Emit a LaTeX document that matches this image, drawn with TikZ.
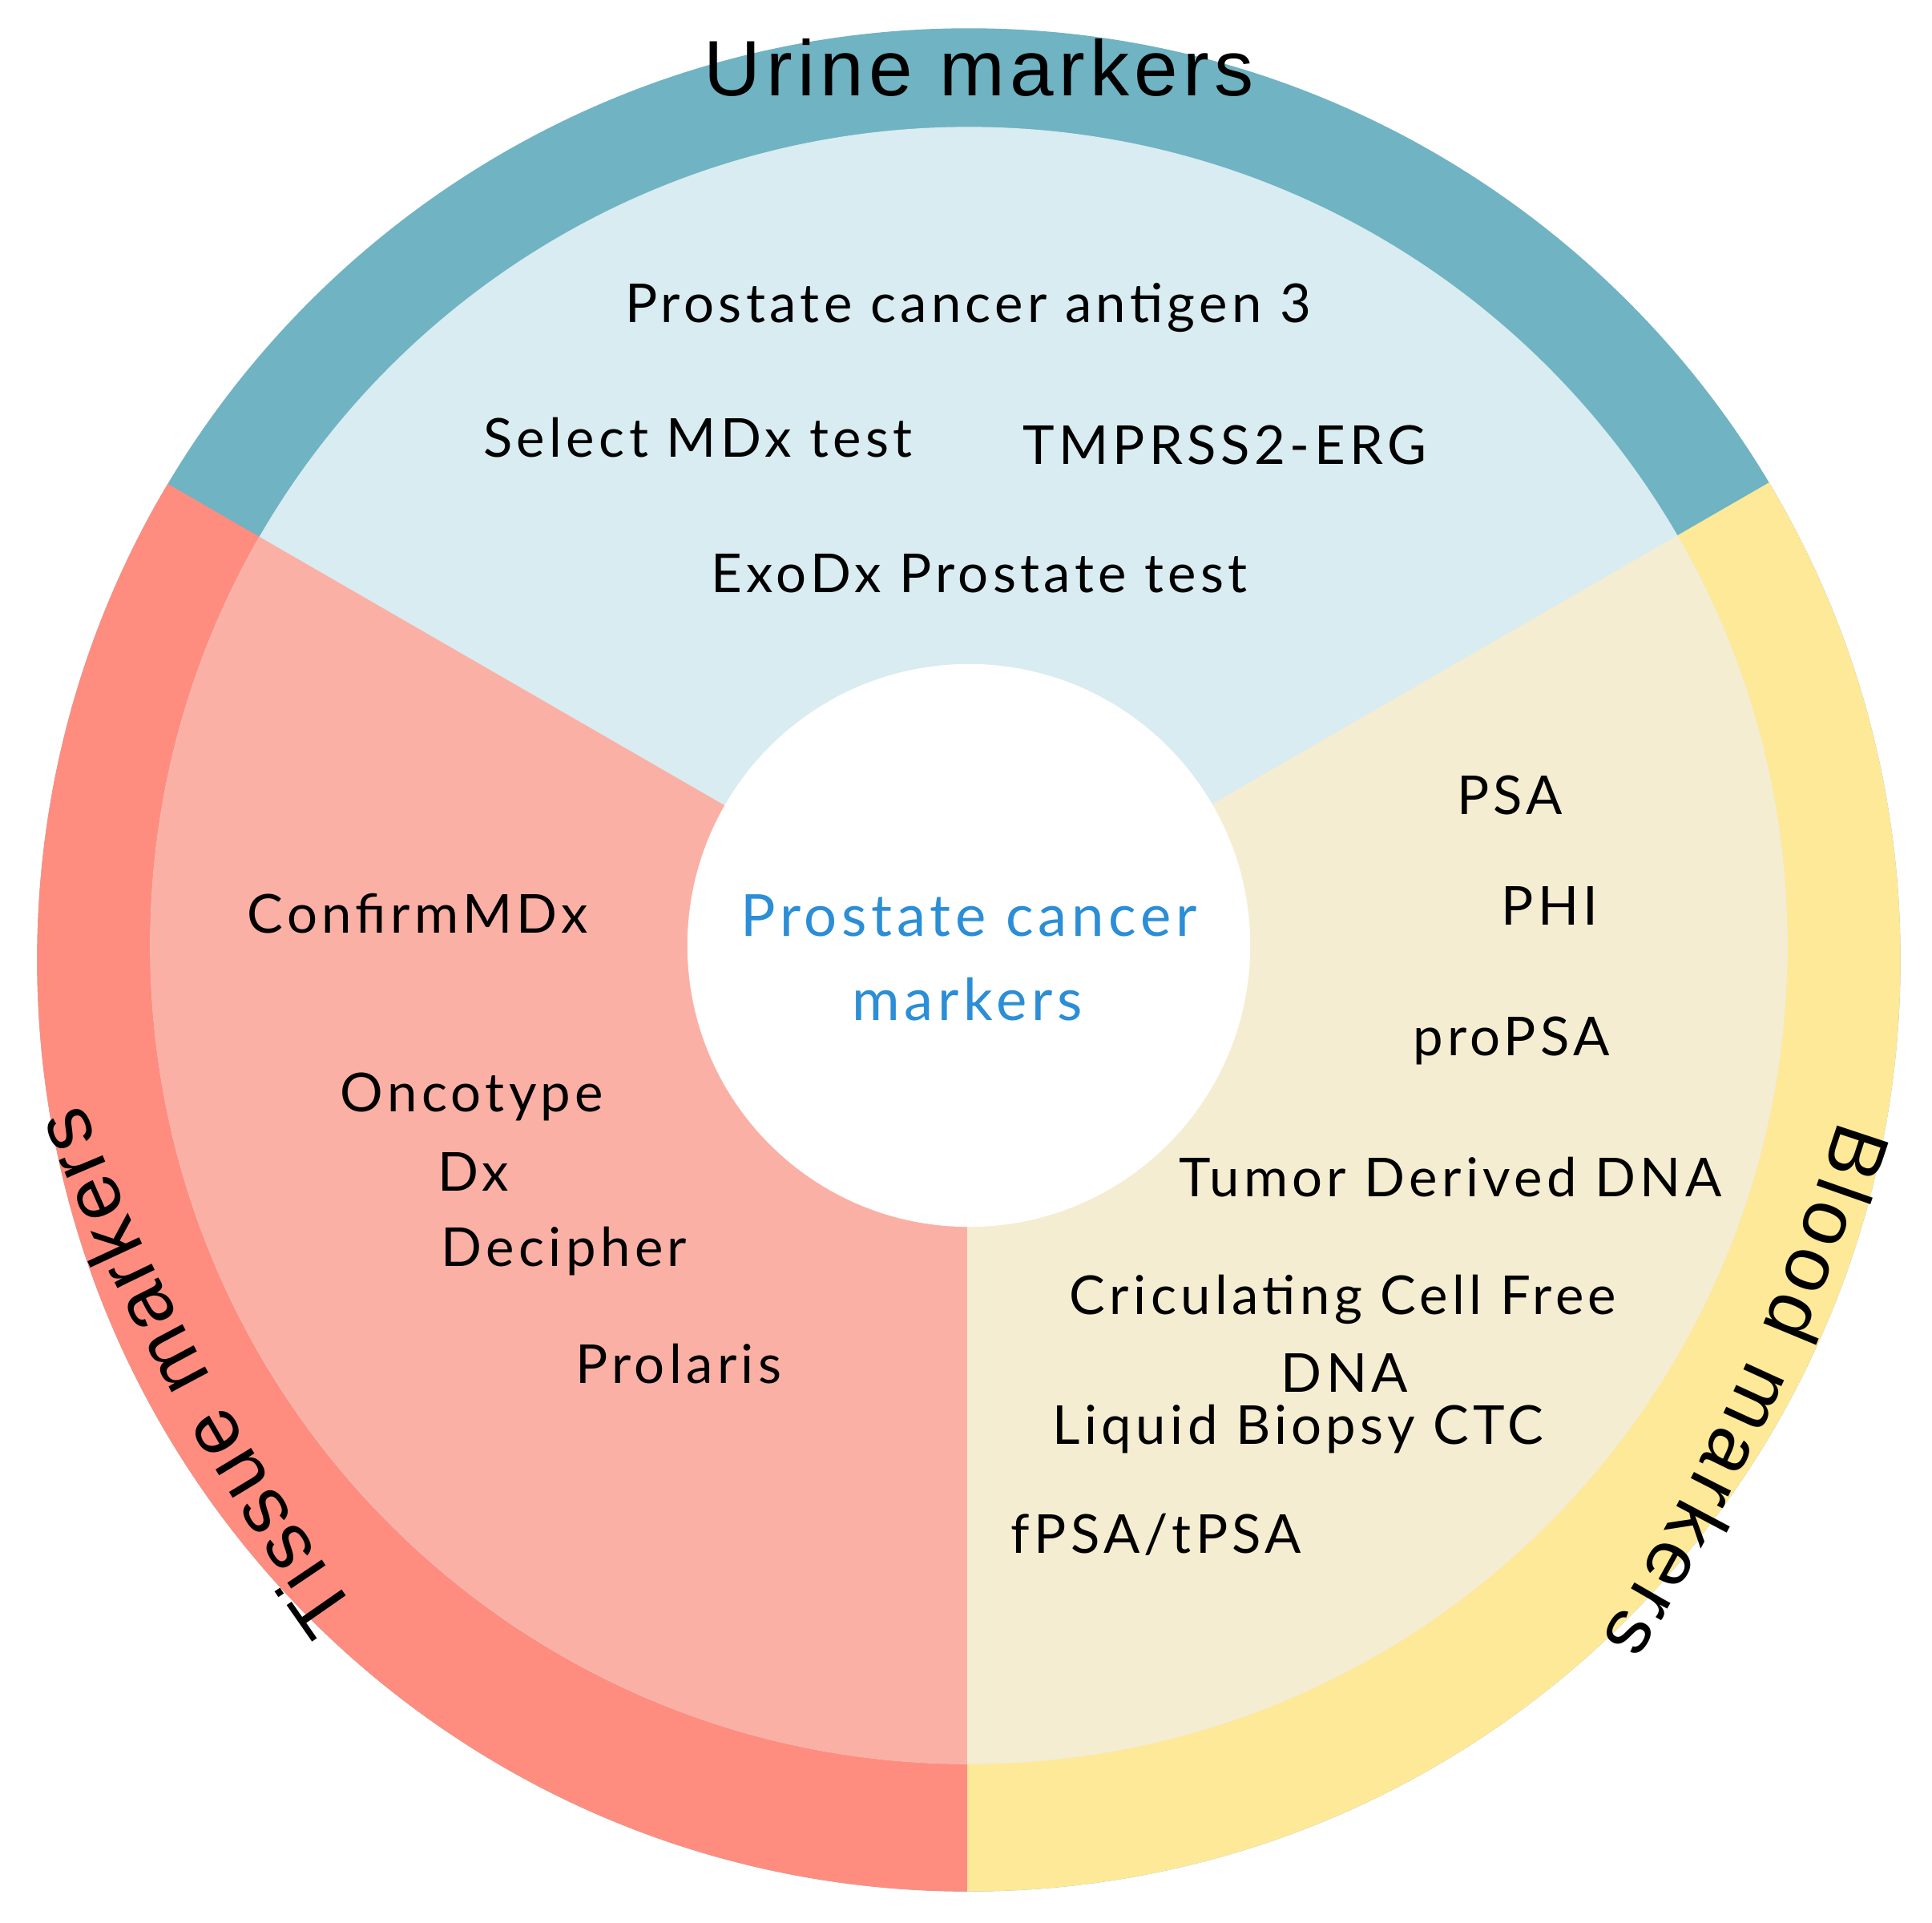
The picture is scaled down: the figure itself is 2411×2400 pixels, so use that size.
\documentclass[tikz,border=0pt]{standalone}
\usepackage{fontspec}
\usetikzlibrary{decorations.text}
\newfontfamily\itemfont[LetterSpace=8]{Lato}
\newfontfamily\labfont{Liberation Sans}
\newfontfamily\urifont[LetterSpace=6.5]{Liberation Sans}
\definecolor{uriD}{HTML}{70B3C3}
\definecolor{uriL}{HTML}{D8ECF1}
\definecolor{tisD}{HTML}{FE8D80}
\definecolor{tisL}{HTML}{FBB0A6}
\definecolor{bloD}{HTML}{FEE998}
\definecolor{bloL}{HTML}{F5EDD1}
\definecolor{cblue}{HTML}{2B8ED6}
\tikzset{
  item/.style={anchor=base, inner sep=0pt, text=black, font=\itemfont\fontsize{19.06}{23}\selectfont},
  centre/.style={anchor=base, inner sep=0pt, text=cblue, font=\itemfont\fontsize{20.6}{25}\selectfont},
  ringlabel/.style={anchor=base, inner sep=0pt, text=black, font=\urifont\fontsize{27.9}{33}\selectfont}
}
\begin{document}
\begin{tikzpicture}[x=0.01cm,y=0.01cm]
\useasboundingbox (0,0) rectangle (2411,2400);
\fill[white] (0,0) rectangle (2411,2400);
\coordinate (P) at (1207,1220);
% outer ring
\begin{scope}
  \clip (1209,1202) circle[radius=11.62cm];
  \fill[uriD] (1209,1202) circle[radius=11.8cm];
  \fill[tisD] (P) -- +(150:30cm) -- +(210:30cm) -- +(270:30cm) -- cycle;
  \fill[bloD] (P) -- +(270:30cm) -- +(330:30cm) -- +(390:30cm) -- cycle;
\end{scope}
% inner disc
\begin{scope}
  \clip (1209,1220) circle[radius=10.21cm];
  \fill[uriL] (1209,1220) circle[radius=10.4cm];
  \fill[tisL] (P) -- +(150:30cm) -- +(210:30cm) -- +(270:30cm) -- cycle;
  \fill[bloL] (P) -- +(270:30cm) -- +(330:30cm) -- +(390:30cm) -- cycle;
\end{scope}
% centre
\fill[white] (1209,1220) circle[radius=3.51cm];
\node[centre] (c1) at (1209,1231) {Prostate cancer};
\node[centre] (c2) at (1207,1126) {markers};

% ring labels
\node[ringlabel] (urine) at (1222,2280) {Urine markers};
\path[decorate, decoration={text along path, text align=fit to path,
  text={|\labfont\fontsize{27.9}{33}\selectfont|Tissue markers}}]
  (447,388) arc[start angle=215.43, end angle=201.60, radius=30cm];
\path[decorate, decoration={text along path, text align=fit to path,
  text={|\labfont\fontsize{27.9}{33}\selectfont|Blood markers}}]
  (2295,1003) arc[start angle=-17.73, end angle=-31.37, radius=30cm];

% urine items
\node[item] (u1) at (1208,1997) {Prostate cancer antigen 3};
\node[item] (u2) at (871,1829) {Select MDx test};
\node[item] (u3) at (1528,1820) {TMPRSS2-ERG};
\node[item] (u4) at (1222,1660) {ExoDx Prostate test};
% tissue items
\node[item] (t1) at (521,1235) {ConfirmMDx};
\node[item] (t2) at (589,1012) {Oncotype};
\node[item] (t3) at (591,913) {Dx};
\node[item] (t4) at (704,819) {Decipher};
\node[item] (t5) at (847,673) {Prolaris};
% blood items
\node[item] (b1) at (1884,1383) {PSA};
\node[item] (b2) at (1934,1245) {PHI};
\node[item] (b3) at (1886,1082) {proPSA};
\node[item] (b4) at (1810,906) {Tumor Derived DNA};
\node[item] (b5) at (1676,759) {Criculating Cell Free};
\node[item] (b5b) at (1678,662) {DNA};
\node[item] (b6) at (1620,597) {Liquid Biopsy CTC};
\node[item] (b7) at (1443,461) {fPSA/tPSA};
\end{tikzpicture}
\end{document}
